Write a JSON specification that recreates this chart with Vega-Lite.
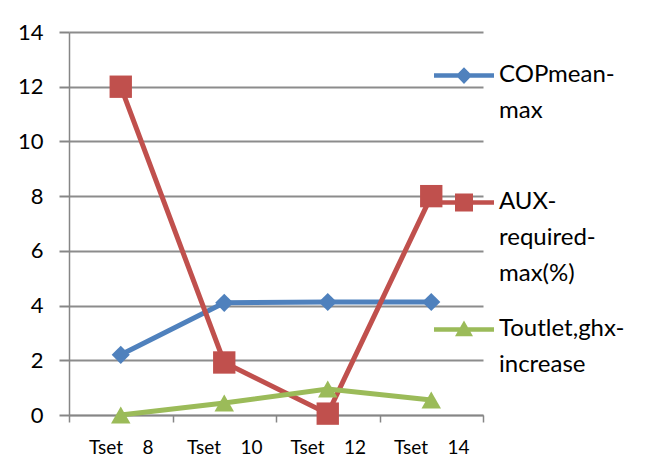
{
  "$schema": "https://vega.github.io/schema/vega-lite/v6.json",
  "width": 414,
  "height": 383,
  "autosize": "none",
  "padding": {"left": 69, "top": 32, "right": 168, "bottom": 44},
  "background": "white",
  "config": {"view": {"stroke": null}, "font": "Lato", "style": {"guide-label": {"lineHeight": 36}}},
  "data": {
    "values": [
      {"t": "Tset_8", "s": "COPmean-max", "v": 2.2},
      {"t": "Tset_10", "s": "COPmean-max", "v": 4.1},
      {"t": "Tset_12", "s": "COPmean-max", "v": 4.13},
      {"t": "Tset_14", "s": "COPmean-max", "v": 4.13},
      {"t": "Tset_8", "s": "AUX-required-max(%)", "v": 12.0},
      {"t": "Tset_10", "s": "AUX-required-max(%)", "v": 1.92},
      {"t": "Tset_12", "s": "AUX-required-max(%)", "v": 0.05},
      {"t": "Tset_14", "s": "AUX-required-max(%)", "v": 8.0},
      {"t": "Tset_8", "s": "Toutlet,ghx-increase", "v": 0.0},
      {"t": "Tset_10", "s": "Toutlet,ghx-increase", "v": 0.44},
      {"t": "Tset_12", "s": "Toutlet,ghx-increase", "v": 0.95},
      {"t": "Tset_14", "s": "Toutlet,ghx-increase", "v": 0.55}
    ]
  },
  "encoding": {
    "x": {
      "field": "t", "type": "nominal",
      "sort": ["Tset_8", "Tset_10", "Tset_12", "Tset_14"],
      "scale": {"type": "band", "paddingInner": 0, "paddingOuter": 0},
      "axis": {
        "title": null, "labelAngle": 0, "tickBand": "extent",
        "labelExpr": "replace(datum.label, '_', '\u00a0\u00a0\u00a0\u00a0')",
        "labelFontSize": 19, "labelColor": "#000", "labelPadding": 16,
        "tickSize": 7, "tickColor": "#868686", "tickWidth": 1.5,
        "domainColor": "#868686", "domainWidth": 1.5, "grid": false
      }
    },
    "y": {
      "field": "v", "type": "quantitative",
      "scale": {"domain": [0, 14], "nice": false},
      "axis": {
        "title": null, "values": [0, 2, 4, 6, 8, 10, 12, 14],
        "labelFontSize": 22, "labelColor": "#000", "labelPadding": 16,
        "tickSize": 10, "tickColor": "#868686", "tickWidth": 2,
        "domainColor": "#868686", "domainWidth": 1.5,
        "grid": true, "gridColor": "#8c8c8c", "gridWidth": 2
      }
    }
  },
  "layer": [
    {
      "transform": [{"filter": "datum.s == 'COPmean-max'"}],
      "mark": {"type": "line", "strokeWidth": 5, "color": "#4F81BD"}
    },
    {
      "transform": [{"filter": "datum.s == 'AUX-required-max(%)'"}],
      "mark": {"type": "line", "strokeWidth": 5, "color": "#C0504D"}
    },
    {
      "transform": [{"filter": "datum.s == 'Toutlet,ghx-increase'"}],
      "mark": {"type": "line", "strokeWidth": 5, "color": "#9BBB59"}
    },
    {
      "transform": [{"filter": "datum.s == 'COPmean-max'"}],
      "mark": {"type": "point", "shape": "diamond", "filled": true, "opacity": 1, "size": 330, "color": "#4F81BD"}
    },
    {
      "transform": [{"filter": "datum.s == 'AUX-required-max(%)'"}],
      "mark": {"type": "point", "shape": "square", "filled": true, "opacity": 1, "size": 500, "color": "#C0504D"}
    },
    {
      "transform": [{"filter": "datum.s == 'Toutlet,ghx-increase'"}],
      "mark": {"type": "point", "shape": "triangle-up", "filled": true, "opacity": 1, "size": 380, "color": "#9BBB59"}
    },
    {
      "transform": [{"filter": "datum.v > 100"}],
      "mark": {"type": "point", "filled": true, "opacity": 1, "size": 3600},
      "encoding": {
        "shape": {
          "field": "s", "type": "nominal",
          "scale": {
            "domain": ["COPmean-max", "AUX-required-max(%)", "Toutlet,ghx-increase"],
            "range": [
              "M-1,0.345H1V0.495H-1Z M0,0.14L0.27,0.42L0,0.7L-0.27,0.42Z",
              "M-1,0.345H1V0.495H-1Z M-0.3,0.12H0.3V0.72H-0.3Z",
              "M-1,0.345H1V0.495H-1Z M0,0.12L0.3,0.64H-0.3Z"
            ]
          },
          "legend": {
            "title": null, "orient": "none", "legendX": 364, "legendY": 0,
            "symbolSize": 3600, "labelFontSize": 24, "labelColor": "#000",
            "labelOffset": 4, "labelLimit": 300,
            "labelBaseline": "top", "rowPadding": 0, "padding": 0, "gridAlign": "all",
            "labelExpr": "datum.value == 'COPmean-max' ? ['COPmean-', 'max'] : datum.value == 'AUX-required-max(%)' ? ['AUX-', 'required-', 'max(%)'] : ['Toutlet,ghx-', 'increase']"
          }
        },
        "color": {
          "field": "s", "type": "nominal",
          "scale": {
            "domain": ["COPmean-max", "AUX-required-max(%)", "Toutlet,ghx-increase"],
            "range": ["#4F81BD", "#C0504D", "#9BBB59"]
          }
        }
      }
    }
  ]
}
